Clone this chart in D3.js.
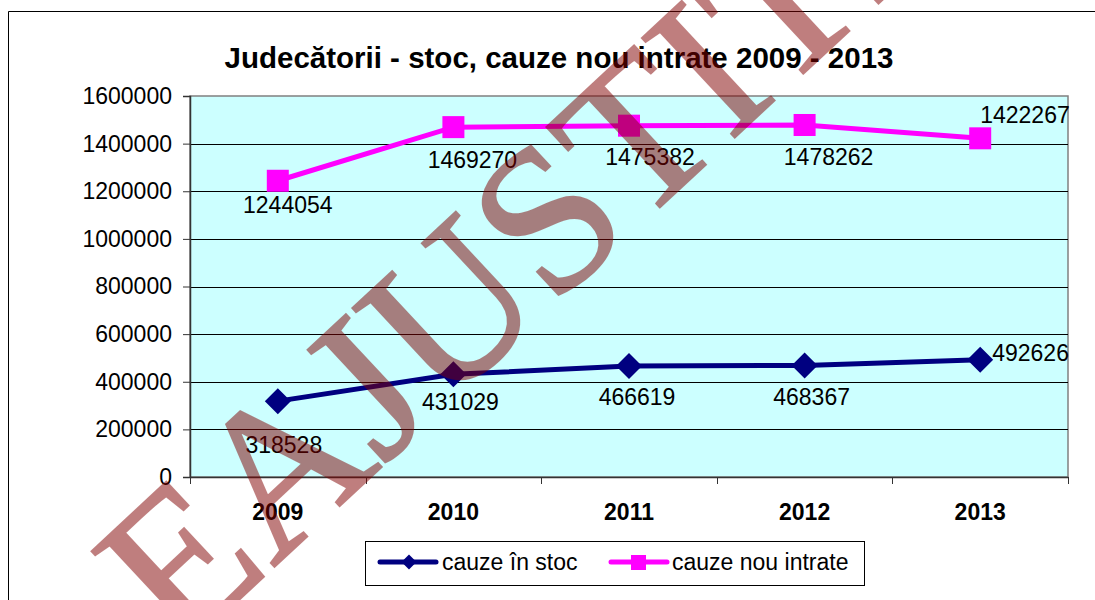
<!DOCTYPE html>
<html>
<head>
<meta charset="utf-8">
<script src="https://cdn.jsdelivr.net/npm/d3@7"></script>
<style>
  body { margin: 0; background: #fff; }
  text { font-family: "Liberation Sans", Arial, sans-serif; }
</style>
</head>
<body>
<div id="chart"></div>
<script>
// chart data
const years = ['2009', '2010', '2011', '2012', '2013'];
const stocValues = [318528, 431029, 466619, 468367, 492626];
const nouValues = [1244054, 1469270, 1475382, 1478262, 1422267];
const yTicks = [0, 200000, 400000, 600000, 800000, 1000000, 1200000, 1400000, 1600000];
const seriesNames = ['cauze în stoc', 'cauze nou intrate'];

// label nudges relative to each point: [dx, dy, anchor]
const stocLabelPos = [[6, 52, 'middle'], [7, 36, 'middle'], [8, 39, 'middle'], [7, 40, 'middle'], [12, 1, 'start']];
const nouLabelPos = [[10, 32, 'middle'], [19, 41, 'middle'], [21, 39, 'middle'], [24, 40, 'middle'], [0, -15, 'start']];

const width = 1095;
const height = 600;
const plot = { left: 190, right: 1068, top: 96, bottom: 477 };

const svg = d3.select('#chart')
  .append('svg')
    .attr('width', width)
    .attr('height', height);

// outer chart border (only left and top are visible)
svg.append('path')
  .attr('d', `M8.5,${height} V11.5 H${width}`)
  .attr('fill', 'none')
  .attr('stroke', '#000')
  .attr('stroke-width', 1);

// title
svg.append('text')
  .attr('x', 559)
  .attr('y', 68)
  .attr('text-anchor', 'middle')
  .attr('font-size', 29.5)
  .attr('font-weight', 'bold')
  .text('Judecătorii - stoc, cauze nou intrate 2009 - 2013');

const x = d3.scaleBand()
  .domain(years)
  .range([plot.left, plot.right]);

const y = d3.scaleLinear()
  .domain([0, 1600000])
  .range([plot.bottom, plot.top]);

// plot area
svg.append('rect')
  .attr('x', plot.left)
  .attr('y', plot.top)
  .attr('width', plot.right - plot.left)
  .attr('height', plot.bottom - plot.top)
  .attr('fill', '#ccffff')
  .attr('stroke', '#808080')
  .attr('stroke-width', 1.5);

// gridlines
svg.append('g')
  .selectAll('line')
  .data(yTicks.filter(d => d > 0 && d < 1600000))
  .join('line')
    .attr('x1', plot.left)
    .attr('x2', plot.right)
    .attr('y1', d => Math.round(y(d)) + 0.5)
    .attr('y2', d => Math.round(y(d)) + 0.5)
    .attr('stroke', '#000')
    .attr('stroke-width', 1);

// y axis
const yAxis = svg.append('g')
  .attr('transform', `translate(${plot.left},0)`)
  .call(d3.axisLeft(y).tickValues(yTicks).tickSize(7).tickPadding(11).tickFormat(d3.format('d')));
yAxis.select('.domain').attr('stroke', '#333').attr('stroke-width', 1.5);
yAxis.selectAll('.tick line').attr('stroke', '#333');
yAxis.selectAll('.tick text')
  .attr('font-size', 23)
  .attr('fill', '#000')
  .attr('font-family', '"Liberation Sans", Arial, sans-serif');

// x axis
const xAxis = svg.append('g')
  .attr('transform', `translate(0,${plot.bottom})`)
  .call(d3.axisBottom(x).tickSize(0).tickPadding(27));
xAxis.select('.domain').attr('stroke', '#333').attr('stroke-width', 1.5);
xAxis.selectAll('.tick text')
  .attr('font-size', 23)
  .attr('font-weight', 'bold')
  .attr('fill', '#000')
  .attr('font-family', '"Liberation Sans", Arial, sans-serif');

// x boundary ticks between categories
xAxis.selectAll('.boundary')
  .data(years.map(d => x(d)).concat([x.range()[1]]))
  .join('line')
    .attr('class', 'boundary')
    .attr('x1', d => Math.round(d) + 0.5)
    .attr('x2', d => Math.round(d) + 0.5)
    .attr('y1', 0)
    .attr('y2', 7)
    .attr('stroke', '#333');

const cx = d => x(d) + x.bandwidth() / 2;

const line = d3.line()
  .x((d, i) => cx(years[i]))
  .y(d => y(d));

// series lines
svg.append('path')
  .datum(stocValues)
  .attr('d', line)
  .attr('fill', 'none')
  .attr('stroke', '#000080')
  .attr('stroke-width', 5);

svg.append('path')
  .datum(nouValues)
  .attr('d', line)
  .attr('fill', 'none')
  .attr('stroke', '#ff00ff')
  .attr('stroke-width', 5);

// markers
const diamond = s => `M0,${-s / 2} L${s / 2},0 L0,${s / 2} L${-s / 2},0 Z`;

svg.append('g')
  .selectAll('path')
  .data(stocValues)
  .join('path')
    .attr('transform', (d, i) => `translate(${cx(years[i])},${y(d)})`)
    .attr('d', diamond(26))
    .attr('fill', '#000080');

svg.append('g')
  .selectAll('rect')
  .data(nouValues)
  .join('rect')
    .attr('x', (d, i) => cx(years[i]) - 11)
    .attr('y', d => y(d) - 11)
    .attr('width', 22)
    .attr('height', 22)
    .attr('fill', '#ff00ff');

// data labels
function drawLabels (values, pos) {
  svg.append('g')
    .selectAll('text')
    .data(values)
    .join('text')
      .attr('x', (d, i) => cx(years[i]) + pos[i][0])
      .attr('y', (d, i) => y(d) + pos[i][1])
      .attr('text-anchor', (d, i) => pos[i][2])
      .attr('font-size', 23)
      .attr('fill', '#000')
      .text(d => d);
}
drawLabels(stocValues, stocLabelPos);
drawLabels(nouValues, nouLabelPos);

// legend
const legend = svg.append('g');
legend.append('rect')
  .attr('x', 365.5)
  .attr('y', 541.5)
  .attr('width', 499)
  .attr('height', 44)
  .attr('fill', '#fff')
  .attr('stroke', '#000');

const legendItems = [
  { name: seriesNames[0], color: '#000080', x: 380, text: 442, marker: 'diamond' },
  { name: seriesNames[1], color: '#ff00ff', x: 611, text: 672, marker: 'square' }
];
legendItems.forEach(item => {
  legend.append('line')
    .attr('x1', item.x)
    .attr('x2', item.x + 56)
    .attr('y1', 562)
    .attr('y2', 562)
    .attr('stroke', item.color)
    .attr('stroke-width', 5)
    .attr('stroke-linecap', 'round');
  if (item.marker === 'diamond') {
    legend.append('path')
      .attr('transform', `translate(${item.x + 29},562)`)
      .attr('d', diamond(15))
      .attr('fill', item.color);
  } else {
    legend.append('rect')
      .attr('x', item.x + 20)
      .attr('y', 555)
      .attr('width', 15)
      .attr('height', 15)
      .attr('fill', item.color);
  }
  legend.append('text')
    .attr('x', item.text)
    .attr('y', 570)
    .attr('font-size', 23)
    .attr('fill', '#000')
    .text(item.name);
});

// watermark over the chart
svg.append('g')
  .attr('opacity', 0.5)
  .append('text')
    .attr('transform', 'translate(180,655) rotate(-43)')
    .style('font-family', '"Liberation Serif", "Times New Roman", serif')
    .attr('font-size', 208)
    .attr('fill', '#800000')
    .attr('stroke', '#800000')
    .attr('stroke-width', 2)
    .text('EAJUSTITIEI');
</script>
</body>
</html>
